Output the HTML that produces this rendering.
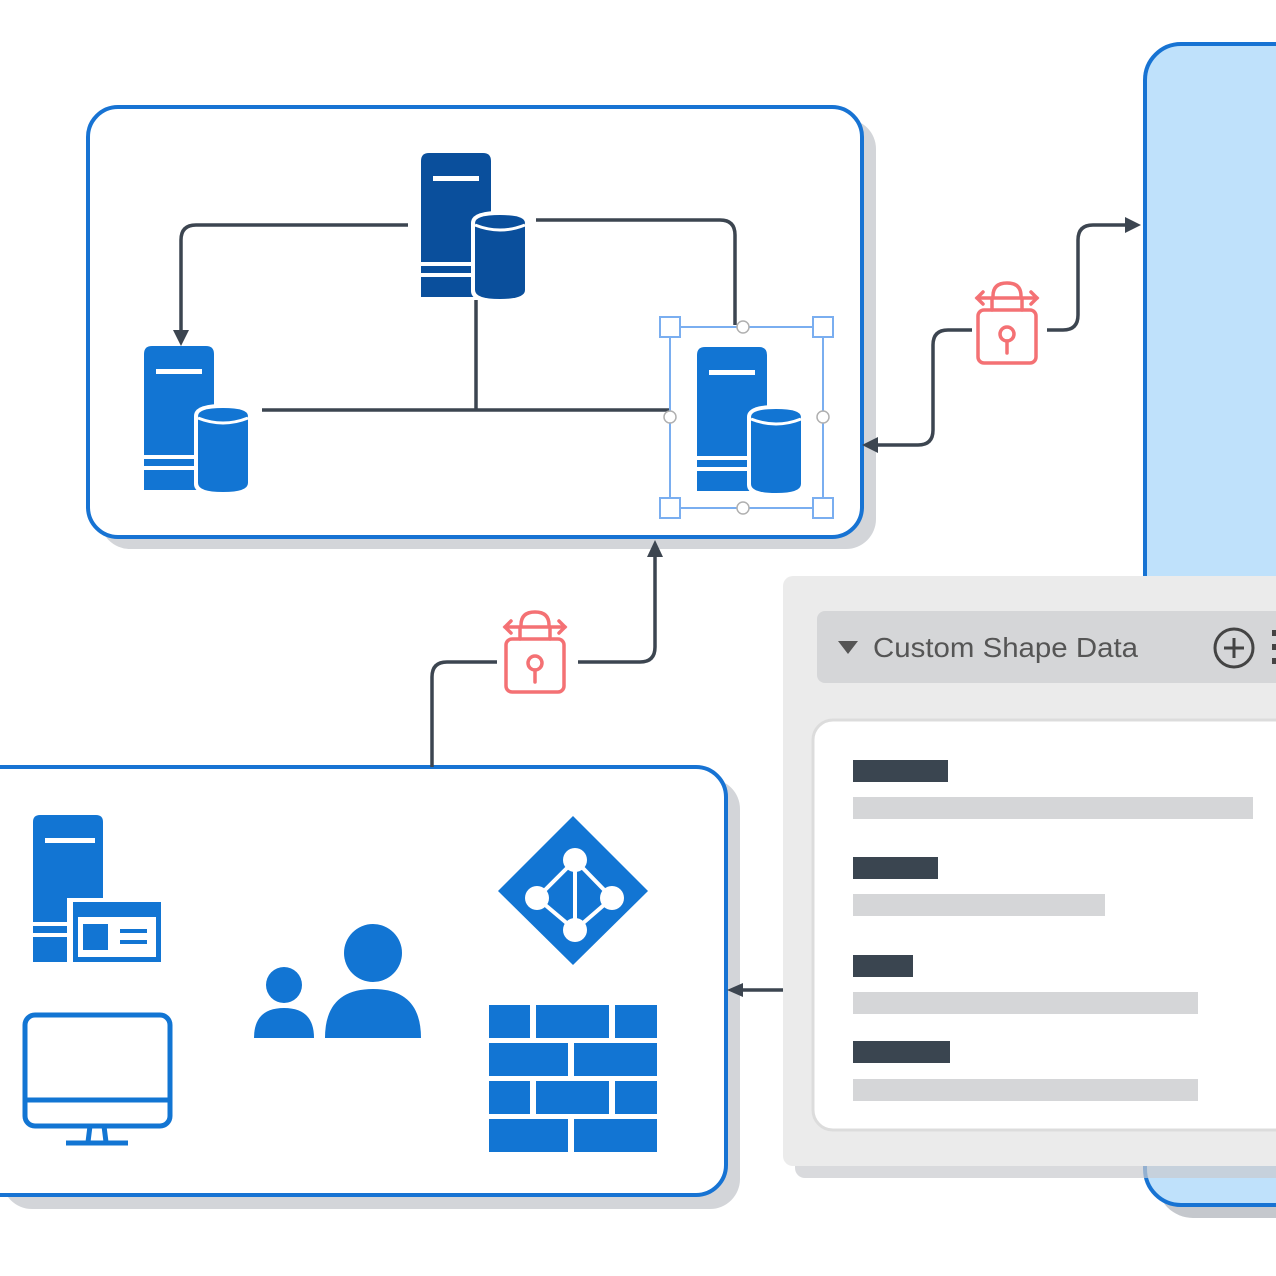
<!DOCTYPE html>
<html><head><meta charset="utf-8"><style>html,body{margin:0;padding:0;background:#fff;width:1276px;height:1276px;overflow:hidden}</style></head>
<body>
<svg width="1276" height="1276" viewBox="0 0 1276 1276" xmlns="http://www.w3.org/2000/svg">
<defs>
<g id="srv">
  <path d="M0,8 Q0,0 8,0 L62,0 Q70,0 70,8 L70,144 L0,144 Z"/>
  <rect x="12" y="23" width="46" height="5" fill="#fff"/>
  <rect x="0" y="109" width="54" height="4" fill="#fff"/>
  <rect x="0" y="120" width="54" height="4" fill="#fff"/>
  <path d="M50,70 Q50,58 79,58 Q108,58 108,70 L108,138 Q108,150 79,150 Q50,150 50,138 Z" fill="#fff"/>
  <path d="M54,70 Q54,62 79,62 Q104,62 104,70 L104,137 Q104,146 79,146 Q54,146 54,137 Z"/>
  <path d="M54,72 Q79,82 104,72" fill="none" stroke="#fff" stroke-width="3"/>
</g>
<g id="lock" fill="none" stroke="#f47174" stroke-width="3.5" stroke-linecap="round">
  <rect x="3" y="30" width="58" height="53" rx="6"/>
  <circle cx="32" cy="54" r="7"/>
  <line x1="32" y1="61" x2="32" y2="73"/>
  <path d="M18,16 Q18,3 32,3 Q46,3 46,16"/>
  <line x1="2" y1="18" x2="62" y2="18"/>
  <path d="M8,12 L2,18 L8,24 M56,12 L62,18 L56,24"/>
  <line x1="17" y1="18" x2="17" y2="30"/><line x1="47" y1="18" x2="47" y2="30"/>
</g>
</defs>

<rect x="1157" y="56" width="200" height="1162" rx="36" fill="#c5c8cd"/>
<rect x="1145" y="44" width="200" height="1161" rx="36" fill="#bfe1fb" stroke="#1773d3" stroke-width="4"/>

<rect x="100" y="119" width="776" height="430" rx="30" fill="#d3d5d9"/>
<rect x="88" y="107" width="774" height="430" rx="30" fill="#fff" stroke="#1773d3" stroke-width="4"/>

<rect x="2" y="779" width="738" height="430" rx="30" fill="#d3d5d9"/>
<rect x="-40" y="767" width="766" height="428" rx="30" fill="#fff" stroke="#1773d3" stroke-width="4"/>

<g fill="none" stroke="#3c4550" stroke-width="3.5">
  <path d="M408,225 L196,225 Q181,225 181,240 L181,335"/>
  <path d="M536,220 L720,220 Q735,220 735,235 L735,325"/>
  <path d="M476,300 L476,410"/>
  <path d="M262,410 L670,410"/>
  <path d="M872,445 L918,445 Q933,445 933,430 L933,345 Q933,330 948,330 L972,330"/>
  <path d="M1047,330 L1063,330 Q1078,330 1078,315 L1078,240 Q1078,225 1093,225 L1130,225"/>
  <path d="M432,767 L432,677 Q432,662 447,662 L497,662"/>
  <path d="M578,662 L640,662 Q655,662 655,647 L655,555"/>
  <path d="M783,990 L738,990"/>
</g>
<g fill="#3c4550">
  <path d="M173,330 L189,330 L181,346 Z"/>
  <path d="M862,445 L878,437 L878,453 Z"/>
  <path d="M1141,225 L1125,217 L1125,233 Z"/>
  <path d="M655,540 L647,557 L663,557 Z"/>
  <path d="M727,990 L743,983 L743,997 Z"/>
</g>

<use href="#srv" x="421" y="153" fill="#0a4f9c"/>
<use href="#srv" x="144" y="346" fill="#1275d3"/>
<use href="#srv" x="697" y="347" fill="#1275d3"/>

<g stroke="#7aaef0" stroke-width="2" fill="#fff">
  <rect x="670" y="327" width="153" height="181" fill="none"/>
  <rect x="660" y="317" width="20" height="20"/><rect x="813" y="317" width="20" height="20"/>
  <rect x="660" y="498" width="20" height="20"/><rect x="813" y="498" width="20" height="20"/>
</g>
<g stroke="#b0b0b0" stroke-width="1.5" fill="#fff">
  <circle cx="743" cy="327" r="6"/><circle cx="743" cy="508" r="6"/>
  <circle cx="670" cy="417" r="6"/><circle cx="823" cy="417" r="6"/>
</g>

<use href="#lock" x="975" y="280"/>
<use href="#lock" x="503" y="609"/>

<g fill="#1275d3">
  <path d="M33,822 Q33,815 40,815 L96,815 Q103,815 103,822 L103,962 L33,962 Z"/>
  <rect x="45" y="838" width="50" height="5" fill="#fff"/>
  <rect x="33" y="922" width="40" height="4" fill="#fff"/>
  <rect x="33" y="933" width="40" height="4" fill="#fff"/>
  <rect x="67" y="898" width="96" height="67" fill="#fff"/>
  <rect x="73" y="902" width="88" height="60"/>
  <rect x="78" y="917" width="78" height="40" fill="#fff"/>
  <rect x="83" y="924" width="25" height="26"/>
  <rect x="120" y="929" width="27" height="4"/><rect x="120" y="940" width="27" height="4"/>
</g>
<g fill="none" stroke="#1275d3" stroke-width="5">
  <rect x="25" y="1015" width="145" height="111" rx="10"/>
  <line x1="25" y1="1100" x2="170" y2="1100"/>
  <path d="M90,1126 L88,1142 M104,1126 L106,1142"/>
  <line x1="66" y1="1143" x2="128" y2="1143"/>
</g>
<g fill="#1275d3">
  <circle cx="284" cy="985" r="18"/>
  <path d="M254,1038 Q254,1008 284,1008 Q314,1008 314,1038 Z"/>
  <circle cx="373" cy="953" r="29"/>
  <path d="M325,1038 Q325,989 373,989 Q421,989 421,1038 Z"/>
</g>
<path d="M573,816 L648,891 L573,965 L498,891 Z" fill="#1275d3"/>
<g stroke="#fff" stroke-width="4" fill="none"><path d="M575,860 L537,898 L575,930 L612,898 Z M575,860 L575,930"/></g>
<g fill="#fff"><circle cx="575" cy="860" r="12"/><circle cx="537" cy="898" r="12"/><circle cx="612" cy="898" r="12"/><circle cx="575" cy="930" r="12"/></g>
<g fill="#1275d3">
  <rect x="489" y="1005" width="41" height="33"/><rect x="536" y="1005" width="73" height="33"/><rect x="615" y="1005" width="42" height="33"/>
  <rect x="489" y="1043" width="79" height="33"/><rect x="574" y="1043" width="83" height="33"/>
  <rect x="489" y="1081" width="41" height="33"/><rect x="536" y="1081" width="73" height="33"/><rect x="615" y="1081" width="42" height="33"/>
  <rect x="489" y="1119" width="79" height="33"/><rect x="574" y="1119" width="83" height="33"/>
</g>

<rect x="795" y="588" width="500" height="590" rx="10" fill="#c9cbce" opacity="0.7"/>
<rect x="783" y="576" width="520" height="590" rx="10" fill="#ebebeb"/>
<rect x="817" y="611" width="480" height="72" rx="8" fill="#d5d6d8"/>
<path d="M838,641 L858,641 L848,654 Z" fill="#555"/>
<text x="873" y="657" font-family="Liberation Sans, sans-serif" font-size="28" fill="#555" textLength="265" lengthAdjust="spacingAndGlyphs">Custom Shape Data</text>
<circle cx="1234" cy="648" r="19" fill="none" stroke="#444" stroke-width="3"/>
<path d="M1234,638 L1234,658 M1224,648 L1244,648" stroke="#444" stroke-width="3"/>
<rect x="1272" y="630" width="6" height="6" fill="#444"/><rect x="1272" y="644" width="6" height="6" fill="#444"/><rect x="1272" y="658" width="6" height="6" fill="#444"/>
<rect x="813" y="720" width="500" height="410" rx="20" fill="#fff" stroke="#dcdcdc" stroke-width="3"/>
<g fill="#3a4550">
  <rect x="853" y="760" width="95" height="22"/><rect x="853" y="857" width="85" height="22"/>
  <rect x="853" y="955" width="60" height="22"/><rect x="853" y="1041" width="97" height="22"/>
</g>
<g fill="#d5d6d8">
  <rect x="853" y="797" width="400" height="22"/><rect x="853" y="894" width="252" height="22"/>
  <rect x="853" y="992" width="345" height="22"/><rect x="853" y="1079" width="345" height="22"/>
</g>
</svg>
</body></html>
